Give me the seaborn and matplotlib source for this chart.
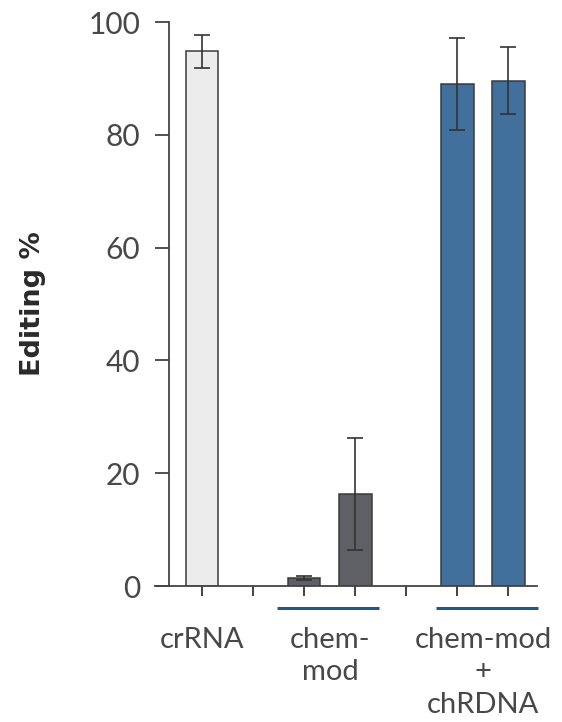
import matplotlib
matplotlib.use("Agg")
import matplotlib.pyplot as plt
import matplotlib.transforms as mtransforms
import seaborn as sns
import pandas as pd

# Editing efficiency per guide (mean and error)
conditions = ["crRNA", "chem-mod A", "chem-mod B", "chRDNA A", "chRDNA B"]
editing_mean = [94.8, 1.4, 16.3, 89.0, 89.6]
editing_err = [2.9, 0.3, 9.9, 8.2, 6.0]
bar_colors = ["#ececec", "#5e6066", "#5e6066", "#40709b", "#40709b"]

# slot order along the x axis, with blank spacers between groups
slot_order = ["crRNA", "gap1", "chem-mod A", "chem-mod B", "gap2", "chRDNA A", "chRDNA B"]

group_labels = ["crRNA", "chem-\nmod", "chem-mod\n+\nchRDNA"]
group_members = [["crRNA"], ["chem-mod A", "chem-mod B"], ["chRDNA A", "chRDNA B"]]

y_ticks = [0, 20, 40, 60, 80, 100]

df = pd.DataFrame({"condition": conditions, "editing": editing_mean})

sns.set_theme(style="white")
plt.rcParams["font.family"] = ["Lato", "DejaVu Sans"]

fig = plt.figure(figsize=(5.62, 7.22), dpi=100)
ax = fig.add_axes([155 / 562, 1 - 586 / 722, 382 / 562, 564 / 722])

sns.barplot(
    data=df, x="condition", y="editing", hue="condition",
    order=slot_order, hue_order=conditions,
    palette=dict(zip(conditions, bar_colors)), saturation=1,
    width=0.63, errorbar=None, legend=False,
    edgecolor="#3a3a3a", linewidth=1.1, ax=ax,
)

xpos = [slot_order.index(c) for c in conditions]
ax.errorbar(xpos, editing_mean, yerr=editing_err, fmt="none",
            ecolor="#333333", elinewidth=1.2, capsize=6, capthick=1.2, zorder=5)

ax.set_ylim(0, 100)
ax.set_xlim(-0.93, 6.56)
ax.set_yticks(y_ticks)
ax.set_yticklabels([str(v) for v in y_ticks])
ax.set_xticks(range(len(slot_order)))
ax.set_xticklabels([""] * len(slot_order))
ax.set_xlabel("")

for side in ["top", "right"]:
    ax.spines[side].set_visible(False)
ax.spines["left"].set_position(("data", -0.65))
for side in ["left", "bottom"]:
    ax.spines[side].set_color("#444444")
    ax.spines[side].set_linewidth(1.3)

ax.tick_params(axis="y", direction="out", length=10, width=1.3, color="#444444",
               labelsize=21.5, labelcolor="#484848", pad=11, left=True)
ax.tick_params(axis="x", direction="out", length=7, width=1.3, color="#333333",
               bottom=True)

ax.set_ylabel("Editing %", fontsize=19.5, fontweight="bold", color="#2a2a2a",
              family=["DejaVu Sans"])
ax.yaxis.set_label_coords(-0.285, 0.5)

# group underlines and labels beneath the axis
trans = mtransforms.blended_transform_factory(ax.transData, ax.transAxes)
line_spans = {1: (1.46, 3.46), 2: (4.58, 6.58)}
for gi, (label, members) in enumerate(zip(group_labels, group_members)):
    centre = sum(slot_order.index(m) for m in members) / len(members)
    if gi in line_spans:
        x0, x1 = line_spans[gi]
        ax.plot([x0, x1], [-0.039, -0.039], transform=trans, color="#1f5a86",
                lw=2.2, clip_on=False, solid_capstyle="butt")
    ax.text(centre, -0.072, label, transform=trans, ha="center", va="top",
            fontsize=21, color="#484848", linespacing=1.32)

fig.savefig("out.png", dpi=100)
